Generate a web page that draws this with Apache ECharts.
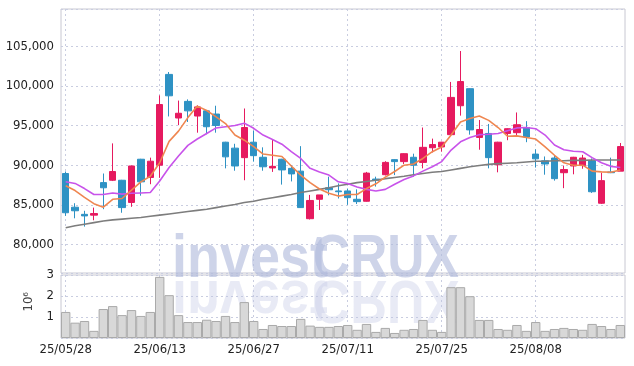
<!DOCTYPE html>
<html><head><meta charset="utf-8">
<script src="https://cdn.jsdelivr.net/npm/echarts@6/dist/echarts.min.js"></script>
<style>html,body{margin:0;padding:0;background:#fff}#c{width:634px;height:366px}</style>
</head><body><div id="c"></div>
<script>
const dates = ['25/05/28','25/05/29','25/05/30','25/06/02','25/06/04','25/06/05','25/06/09','25/06/10','25/06/11','25/06/12',
'25/06/13','25/06/16','25/06/17','25/06/18','25/06/19','25/06/20','25/06/23','25/06/24','25/06/25','25/06/26',
'25/06/27','25/06/30','25/07/01','25/07/02','25/07/03','25/07/04','25/07/07','25/07/08','25/07/09','25/07/10',
'25/07/11','25/07/14','25/07/15','25/07/16','25/07/17','25/07/18','25/07/21','25/07/22','25/07/23','25/07/24',
'25/07/25','25/07/28','25/07/29','25/07/30','25/07/31','25/08/01','25/08/04','25/08/05','25/08/06','25/08/07',
'25/08/08','25/08/11','25/08/12','25/08/13','25/08/14','25/08/18','25/08/19','25/08/20','25/08/21','25/08/22'];
const opens = [88950,84700,83800,83700,87800,88100,88100,85300,90750,88450,
90000,101450,95950,98050,96200,96850,96450,92900,92150,90950,
92900,91000,89650,90750,89600,89250,83250,85700,87150,86750,
86750,85700,85450,88250,88800,90700,90450,91000,90350,92200,
92300,93850,97500,99650,93500,94000,90050,94000,94100,94750,
91400,90550,90900,89050,89900,89950,90550,85200,89150,89250];
const closes = [84000,84250,83600,83900,87150,89200,84650,89900,87900,90500,
97650,98750,96550,96850,97350,94850,95000,91050,89900,94750,
91200,89800,89850,89400,88900,84650,85550,86250,86900,86650,
85900,85400,89000,88100,90350,90450,91450,90000,92250,92600,
92900,98550,100550,94450,94500,90950,92900,94600,95100,93550,
90800,90150,88300,89450,91000,90900,86650,88050,89050,92350];
const lows = [83600,83300,82250,83050,84450,88000,84000,84750,86150,87600,
88400,96150,95050,95450,94100,93900,94100,89600,89300,88100,
90450,89300,89150,87550,87950,84600,83150,84350,86200,85800,
85000,85100,85400,87300,88700,88750,90150,88550,89600,91600,
91700,93800,96250,93850,91950,89600,89100,93150,93650,92900,
89700,88800,88050,87100,88850,89550,86500,85100,89000,89250];
const highs = [89200,85200,84250,84650,88950,92750,88150,89950,90800,90950,
98800,101750,98150,98300,97550,96900,97500,92950,92700,97150,
94350,92250,93300,90800,90000,92400,86250,86250,88550,87700,
87050,86950,89150,88550,90500,90750,91500,91450,94750,93350,
92950,100500,104400,99700,95700,95200,92950,94650,96650,95550,
92000,91100,91200,89950,91050,91300,90850,89050,90950,92800];
const ma5 = [87400,86800,85950,85150,84700,85700,85800,86850,87900,88600,
90300,93000,94300,96000,97450,96900,96100,95250,93800,93150,
92350,91400,91250,91100,89900,88750,87800,87000,86450,86100,
86300,86300,87050,87650,88500,89200,90000,90150,90850,91700,
92300,93800,95450,95900,96200,95650,94750,93650,93700,93500,
93300,92300,91250,90300,90000,90000,89250,89150,89100,89400];
const ma10 = [87900,87700,87050,86300,86300,86500,86350,86450,86500,86550,
88000,89700,91150,92500,93300,94000,94700,94850,95000,95300,
94650,93800,93250,92650,91700,90850,89600,89150,88750,87900,
87700,87250,86950,86750,86950,87600,88200,88650,89250,89800,
90450,91900,92950,93500,93850,93900,94000,94350,94700,94750,
94600,93800,92550,91950,91750,91700,90950,90300,89850,89700];
const maLong = [82100,82350,82550,82750,82950,83100,83200,83300,83400,83550,
83700,83850,84000,84150,84300,84450,84650,84850,85050,85300,
85450,85700,85900,86100,86300,86550,86750,86950,87150,87400,
87600,87800,87950,88100,88300,88450,88600,88800,88950,89100,
89200,89400,89600,89800,89950,90100,90200,90250,90300,90400,
90500,90500,90550,90550,90600,90600,90650,90650,90650,90650];
const volumes = [1240000,730000,810000,340000,1380000,1520000,1090000,1330000,1050000,1240000,
2910000,2040000,1090000,760000,760000,870000,810000,1050000,760000,1710000,
810000,430000,620000,570000,570000,910000,590000,530000,530000,570000,
620000,390000,670000,290000,480000,240000,390000,430000,860000,390000,
290000,2420000,2420000,1990000,860000,860000,430000,390000,620000,340000,
760000,340000,430000,480000,430000,390000,670000,570000,430000,620000];

const UP = '#e61a5f', DOWN = '#2e92c4';
const FONT = '"Liberation Sans Narrow", "DejaVu Sans Condensed", Roboto, sans-serif';
const gridLine = {show: true, lineStyle: {color: '#c9cde0', type: [2, 3], width: 1}};
const candles = dates.map((d, i) => [opens[i], closes[i], lows[i], highs[i]]);

const chart = echarts.init(document.getElementById('c'), null, {renderer: 'canvas'});
const wmFill = 'rgba(176,186,220,0.62)';
const wmFill2 = 'rgba(190,196,226,0.36)';
const wmFont = 'bold 62px "Liberation Sans", Arial, sans-serif';
function wm(text, fill, mirror) {
  return {
    type: 'text', z: 1, silent: true,
    originX: 0, originY: 279,
    scaleY: mirror ? -1 : 1,
    style: {text: text, x: 0, y: 291, font: wmFont, fill: fill, verticalAlign: 'bottom', align: 'left'}
  };
}
chart.setOption({
  animation: false,
  graphic: [
    {type: 'group', x: 172, y: 0, scaleX: 0.87, children: [wm('invest', wmFill, false), wm('invest', wmFill2, true)]},
    {type: 'group', x: 313, y: 0, scaleX: 0.83, children: [wm('CRUX', wmFill, false), wm('CRUX', wmFill2, true)]},
    {type: 'text', left: 22, top: 292, rotation: Math.PI / 2, silent: true,
     style: {text: '10⁶', font: '13px ' + FONT, fill: '#444'}}
  ],
  grid: [
    {left: 61, right: 9, top: 9, bottom: 93, show: true, borderColor: '#c8c8d2', borderWidth: 1},
    {left: 61, right: 9, top: 275, bottom: 28, show: true, borderColor: '#c8c8d2', borderWidth: 1}
  ],
  xAxis: [
    {type: 'category', gridIndex: 0, data: dates, boundaryGap: true,
     axisLine: {show: false}, axisTick: {show: false}, axisLabel: {show: false},
     splitLine: Object.assign({interval: 9, alignWithLabel: true}, gridLine)},
    {type: 'category', gridIndex: 1, data: dates, boundaryGap: true,
     axisLine: {show: false}, axisTick: {show: false},
     axisLabel: {interval: 9, color: '#222', fontFamily: FONT, fontSize: 13, margin: 5},
     splitLine: Object.assign({interval: 9, alignWithLabel: true}, gridLine)}
  ],
  yAxis: [
    {type: 'value', gridIndex: 0, min: 76400, max: 109700, splitNumber: 6, scale: true,
     axisLine: {show: false}, axisTick: {show: false},
     axisLabel: {showMinLabel: false, showMaxLabel: false, color: '#222', fontFamily: FONT, fontSize: 13, margin: 7,
       formatter: v => (v % 5000 === 0 ? v.toLocaleString('en-US') : '')},
     splitLine: gridLine},
    {type: 'value', gridIndex: 1, min: 0, max: 3000000, interval: 1000000,
     axisLine: {show: false}, axisTick: {show: false},
     axisLabel: {showMinLabel: false, color: '#222', fontFamily: FONT, fontSize: 13, margin: 7,
       formatter: v => String(v / 1000000)},
     splitLine: gridLine}
  ],
  series: [
    {type: 'candlestick', xAxisIndex: 0, yAxisIndex: 0, data: candles, barWidth: 7, z: 3,
     itemStyle: {color: UP, color0: DOWN, borderColor: UP, borderColor0: DOWN, borderWidth: 1}},
    {type: 'line', xAxisIndex: 0, yAxisIndex: 0, data: maLong, showSymbol: false, z: 4,
     lineStyle: {color: '#7d7d7d', width: 1.6}},
    {type: 'line', xAxisIndex: 0, yAxisIndex: 0, data: ma10, showSymbol: false, z: 4,
     lineStyle: {color: '#c853ea', width: 1.6}},
    {type: 'line', xAxisIndex: 0, yAxisIndex: 0, data: ma5, showSymbol: false, z: 4,
     lineStyle: {color: '#ef8650', width: 1.6}},
    {type: 'bar', xAxisIndex: 1, yAxisIndex: 1, data: volumes, barCategoryGap: '0%', z: 3,
     itemStyle: {color: '#d8d8d8', borderColor: '#aaaaaa', borderWidth: 1}}
  ]
});
</script></body></html>
